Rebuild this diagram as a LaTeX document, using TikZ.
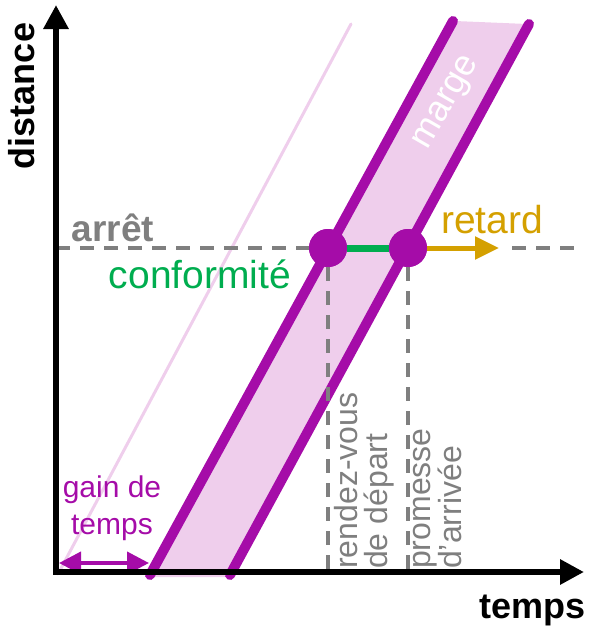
\documentclass[tikz,border=0pt]{standalone}
\usepackage{fontspec}
\setmainfont{Liberation Sans}
\usetikzlibrary{arrows.meta}
\definecolor{Pc}{HTML}{A50CA8}
\definecolor{Kc}{HTML}{EFCEEC}
\definecolor{Gc}{HTML}{7F7F7F}
\definecolor{Nc}{HTML}{00AD4F}
\definecolor{Oc}{HTML}{D4A000}
\newcommand{\fs}[1]{\fontsize{#1}{#1}\selectfont}
\tikzset{
  axis/.style={line width=6pt, line join=miter, {Triangle[length=24pt,width=24pt]}-{Triangle[length=24pt,width=24pt]}},
  edge/.style={Pc, line width=10pt, line cap=round},
  ghost/.style={Kc, line width=3pt, line cap=round},
  guide/.style={Gc, line width=3.5pt, dash pattern=on 14pt off 10pt},
  meet/.style={circle, fill=Pc, inner sep=0pt, minimum size=38pt},
  ok/.style={Nc, line width=7pt},
  late/.style={Oc, line width=5pt, -{Triangle[length=24pt,width=22pt]}},
  gain/.style={Pc, line width=4pt, {Triangle[length=22pt,width=22pt]}-{Triangle[length=22pt,width=22pt]}},
  lbl/.style={inner sep=0pt, font=\fs{36}},
  vlbl/.style={Gc, rotate=90, anchor=north west, align=left, inner sep=0pt, font=\fontsize{32}{30}\selectfont},
}

\begin{document}
\begin{tikzpicture}[x=1pt, y=-1pt]
  \useasboundingbox (0,0) rectangle (592,632);
  \coordinate (O) at (56,572);
  \coordinate (ytop) at (56,5);
  \coordinate (xend) at (584,572);
  \coordinate (h0) at (56,248);
  \coordinate (h1) at (582,248);
  \fill[Kc] (150,577) -- (455,21) -- (527,24) -- (230,577) -- cycle;
  \draw[ghost] (58,574) -- (351,24);
  \draw[edge] (150,575) -- (453,21);
  \draw[edge] (230,575) -- (529,24);
  \draw[guide] (h0) -- (h1);
  \node[meet] (rdv) at (328,248) {};
  \node[meet] (arr) at (408,248) {};
  \coordinate (rdvb) at (328,572);
  \coordinate (arrb) at (408,572);
  \coordinate (tip) at (499,248);
  \draw[guide] (rdv) -- (rdvb);
  \draw[guide] (arr) -- (arrb);
  \fill[white] (470,238) rectangle (505,258);
  \draw[ok] (rdv) -- (arr);
  \draw[late] (arr) -- (tip);
  \node[meet] at (rdv) {};
  \node[meet] at (arr) {};
  \coordinate (g0) at (59,563);
  \coordinate (g1) at (149,563);
  \draw[gain] (g0) -- (g1);
  \draw[axis] (ytop) -- (O) -- (xend);
  \node[lbl, rotate=90, font=\bfseries\fs{36}] (ylab) at (22,96) {distance};
  \node[lbl, font=\bfseries\fs{36}] (xlab) at (533,610) {temps};
  \node[lbl, Gc, font=\bfseries\fs{37}] (stop) at (113,228) {arrêt};
  \node[lbl, Nc, font=\fs{39}] (conf) at (200,274) {conformité};
  \node[lbl, Oc, font=\fs{39}] (delay) at (492,220) {retard};
  \node[lbl, white, rotate=60] (marg) at (448,103) {marge};
  \node[Pc, align=center, inner sep=0pt, font=\fontsize{30}{37}\selectfont] (win) at (112,508) {gain de\\temps};
  \node[vlbl] (rdvlab) at (334,569) {rendez-vous\\de départ};
  \node[vlbl] (arrlab) at (413,569) {promesse\\d’arrivée};
\end{tikzpicture}
\end{document}
